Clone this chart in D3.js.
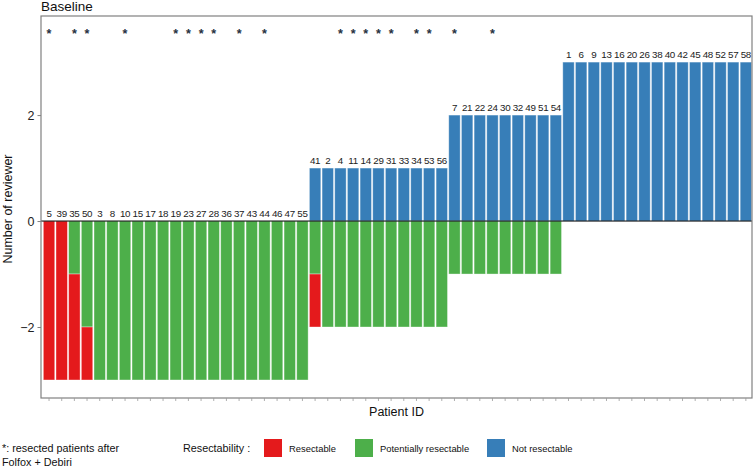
<!DOCTYPE html>
<html>
<head>
<meta charset="utf-8">
<script src="https://cdn.jsdelivr.net/npm/d3@7/dist/d3.min.js"></script>
<style>
  html, body { margin: 0; padding: 0; background: #fff; }
  svg { display: block; font-family: "Liberation Sans", Arial, Helvetica, sans-serif; }
</style>
</head>
<body>
<svg id="chart" width="755" height="468"></svg>
<script>
// ---- data ----
const patients = [5,39,35,50,3,8,10,15,17,18,19,23,27,28,36,37,43,44,46,47,55,
  41,2,4,11,14,29,31,33,34,53,56,
  7,21,22,24,30,32,49,51,54,
  1,6,9,13,16,20,26,38,40,42,45,48,52,57,58];
// number of reviewers rating "Not resectable" (plotted upward)
const notResectable = [0,0,0,0,0,0,0,0,0,0,0,0,0,0,0,0,0,0,0,0,0,
  1,1,1,1,1,1,1,1,1,1,1,
  2,2,2,2,2,2,2,2,2,
  3,3,3,3,3,3,3,3,3,3,3,3,3,3,3];
// number of reviewers rating "Potentially resectable" (plotted downward)
const potentiallyResectable = [0,0,1,2,3,3,3,3,3,3,3,3,3,3,3,3,3,3,3,3,3,
  1,2,2,2,2,2,2,2,2,2,2,
  1,1,1,1,1,1,1,1,1,
  0,0,0,0,0,0,0,0,0,0,0,0,0,0,0];
// number of reviewers rating "Resectable" (plotted downward, below green)
const resectable = [3,3,2,1,0,0,0,0,0,0,0,0,0,0,0,0,0,0,0,0,0,
  1,0,0,0,0,0,0,0,0,0,0,
  0,0,0,0,0,0,0,0,0,
  0,0,0,0,0,0,0,0,0,0,0,0,0,0,0];
// patients resected after Folfox + Debiri
const resectedAfter = [5,35,50,10,19,23,27,28,37,44,4,11,14,29,31,34,53,7,24];
const yTicks = [-2, 0, 2];
const categories = ["Resectable", "Potentially resectable", "Not resectable"];
const colors = ["#E41A1C", "#4DAF4A", "#377EB8"];
const asteriskLevel = 3.57;

// ---- layout ----
const svg = d3.select("#chart");
const panel = {left: 41, right: 752, top: 16, bottom: 398};

const x = d3.scaleBand().domain(patients)
  .range([42.7, 752.2]).paddingInner(0.1).paddingOuter(0.05);
const y = d3.scaleLinear().domain([-3.34, 3.87]).range([panel.bottom, panel.top]);
const color = d3.scaleOrdinal().domain(categories).range(colors);

const rows = patients.map((p, i) => ({
  id: p, nr: notResectable[i], pr: potentiallyResectable[i], r: resectable[i]
}));

// title
svg.append("text").attr("x", 41).attr("y", 11)
  .attr("font-size", 13.5).attr("fill", "#111").text("Baseline");

const g = svg.append("g");

// bars: Not resectable (up)
g.selectAll("rect.nr").data(rows.filter(d => d.nr > 0)).join("rect")
  .attr("x", d => x(d.id)).attr("width", x.bandwidth())
  .attr("y", d => y(d.nr)).attr("height", d => y(0) - y(d.nr))
  .attr("fill", color("Not resectable"))
  .attr("stroke", "rgba(255,255,255,0.45)").attr("stroke-width", 0.8);

// bars: Potentially resectable (down from 0)
g.selectAll("rect.pr").data(rows.filter(d => d.pr > 0)).join("rect")
  .attr("x", d => x(d.id)).attr("width", x.bandwidth())
  .attr("y", y(0)).attr("height", d => y(-d.pr) - y(0))
  .attr("fill", color("Potentially resectable"))
  .attr("stroke", "rgba(255,255,255,0.45)").attr("stroke-width", 0.8);

// bars: Resectable (below green)
g.selectAll("rect.r").data(rows.filter(d => d.r > 0)).join("rect")
  .attr("x", d => x(d.id)).attr("width", x.bandwidth())
  .attr("y", d => y(-d.pr)).attr("height", d => y(-d.pr - d.r) - y(-d.pr))
  .attr("fill", color("Resectable"))
  .attr("stroke", "rgba(255,255,255,0.45)").attr("stroke-width", 0.8);

// zero line
g.append("line").attr("x1", panel.left).attr("x2", panel.right)
  .attr("y1", y(0)).attr("y2", y(0)).attr("stroke", "#000").attr("stroke-width", 1);

// patient labels
g.selectAll("text.pid").data(rows).join("text")
  .attr("x", d => x(d.id) + x.bandwidth() / 2)
  .attr("y", d => y(d.nr) - 4)
  .attr("text-anchor", "middle").attr("font-size", 9.8)
  .attr("letter-spacing", -0.3)
  .attr("fill", "#222").text(d => d.id);

// asterisks
g.selectAll("text.ast").data(resectedAfter).join("text")
  .attr("x", d => x(d) + x.bandwidth() / 2)
  .attr("y", y(asteriskLevel) + 6)
  .attr("text-anchor", "middle").attr("font-size", 12.5).attr("font-weight", "bold")
  .attr("fill", "#263040").text("*");

// panel border
svg.append("rect").attr("x", panel.left).attr("y", panel.top)
  .attr("width", panel.right - panel.left).attr("height", panel.bottom - panel.top)
  .attr("fill", "none").attr("stroke", "#808080").attr("stroke-width", 1.2);

// y axis
const yAxis = svg.append("g").attr("transform", `translate(${panel.left},0)`)
  .call(d3.axisLeft(y).tickValues(yTicks).tickSize(3.5).tickPadding(3)
    .tickFormat(d => d < 0 ? "\u2212" + Math.abs(d) : d));
yAxis.select(".domain").remove();
yAxis.selectAll(".tick line").attr("stroke", "#808080");
yAxis.selectAll(".tick text").attr("font-size", 12.5).attr("fill", "#222")
  .attr("font-family", "Liberation Sans, Arial, sans-serif");

// x axis (ticks only)
const xAxis = svg.append("g").attr("transform", `translate(0,${panel.bottom})`)
  .call(d3.axisBottom(x).tickSize(3).tickFormat(""));
xAxis.select(".domain").remove();
xAxis.selectAll(".tick line").attr("stroke", "#9a9a9a").attr("stroke-width", 0.8);

// axis titles
svg.append("text").attr("x", (panel.left + panel.right) / 2).attr("y", 416)
  .attr("text-anchor", "middle").attr("font-size", 12.5).attr("fill", "#111")
  .text("Patient ID");
svg.append("text")
  .attr("transform", `translate(12,${(panel.top + panel.bottom) / 2 + 2}) rotate(-90)`)
  .attr("text-anchor", "middle").attr("font-size", 12.5).attr("fill", "#111")
  .text("Number of reviewer");

// footnote
svg.append("text").attr("x", 2).attr("y", 452).attr("font-size", 10.8).attr("fill", "#111")
  .text("*: resected patients after");
svg.append("text").attr("x", 2).attr("y", 466).attr("font-size", 10.8).attr("fill", "#111")
  .text("Folfox + Debiri");

// legend
svg.append("text").attr("x", 183).attr("y", 452).attr("font-size", 10.8).attr("fill", "#111")
  .text("Resectability :");
const legendX = [264, 355, 487];
const leg = svg.selectAll("g.leg").data(categories).join("g")
  .attr("transform", (d, i) => `translate(${legendX[i]},439)`);
leg.append("rect").attr("width", 18).attr("height", 18).attr("fill", d => color(d));
leg.append("text").attr("x", 25).attr("y", 12.5).attr("font-size", 9.4)
  .attr("fill", "#111").text(d => d);
</script>
</body>
</html>
